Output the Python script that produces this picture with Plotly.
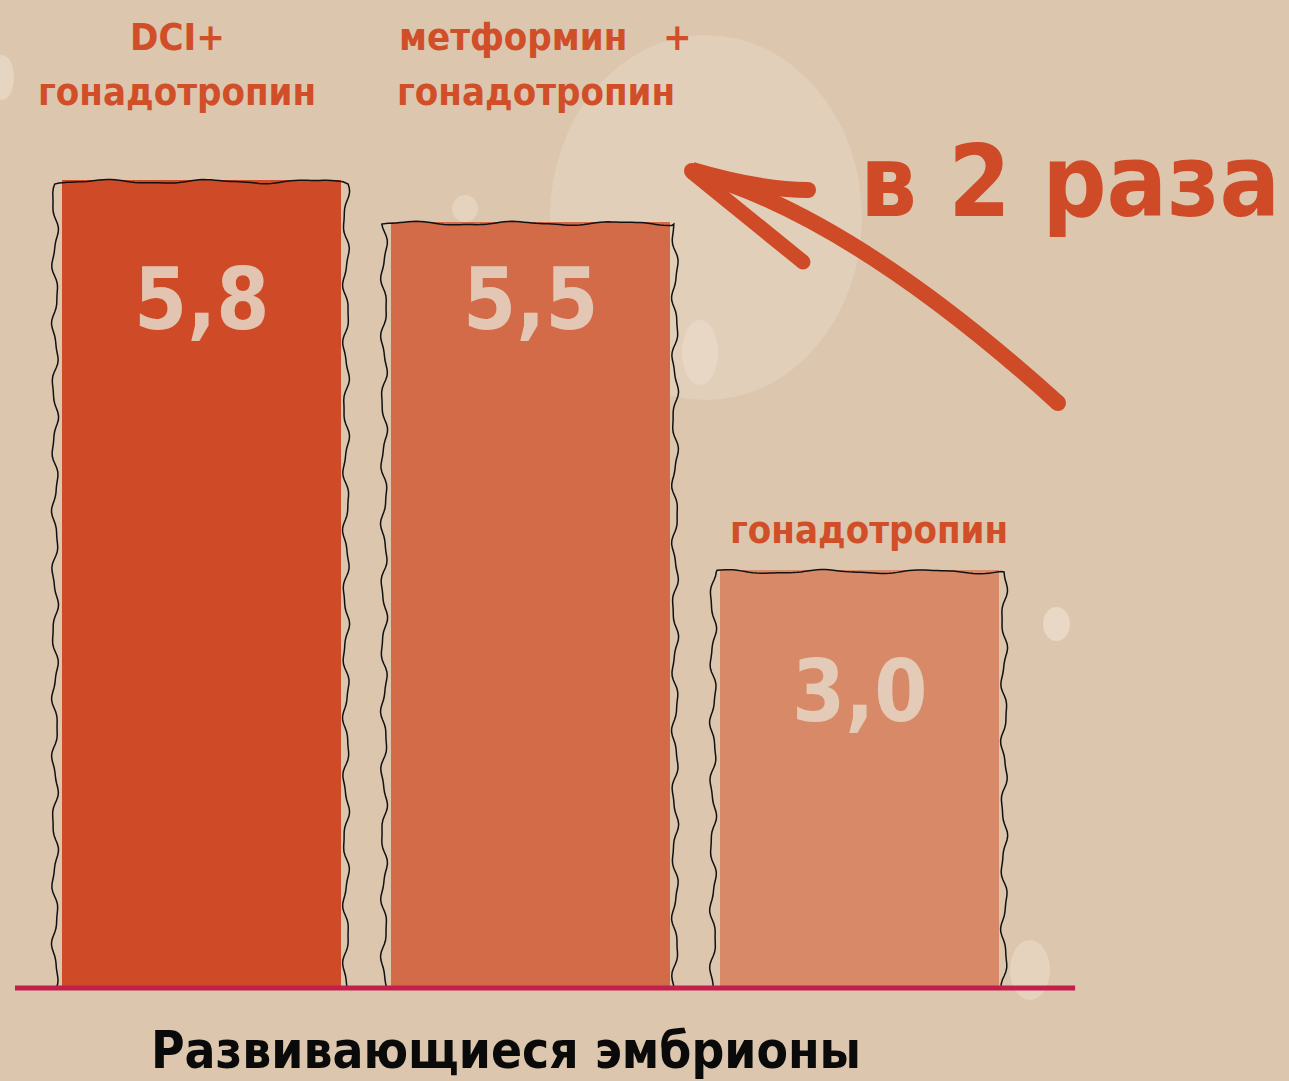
import math
import plotly.graph_objects as go

# ---------------- data ----------------
categories = ["DCI+<br>гонадотропин", "метформин   +<br>гонадотропин", "гонадотропин"]
values = [5.8, 5.5, 3.0]
value_labels = ["5,8", "5,5", "3,0"]
axis_title = "Развивающиеся эмбрионы"
callout = "в 2 раза"

# ---------------- style ----------------
W, H = 1289, 1081
bar_colors = ["#cf4a26", "#d36a48", "#d88a68"]
label_color = "#d04e28"
value_color = "rgba(228,210,192,0.9)"
bg = "#dcc6ae"
FONT = "DejaVu Sans Condensed, Noto Sans"

x_pos = [0, 1, 2]
bar_w = 0.848
y_max = 7.093
x_range = [-0.6125, 3.305]
plot_bottom_px = 988
label_x_shift = [[-0.074, -0.074], [0.045, 0.018], [0.03]]
label_line_px = [[37, 92], [37, 92], [530]]
value_y = [4.94, 4.94, 2.13]

def paper(px, py):
    return px / W, 1 - py / H

fig = go.Figure()
fig.add_trace(go.Bar(
    x=x_pos, y=values, width=bar_w,
    marker=dict(color=bar_colors, line=dict(width=0)),
    hoverinfo="skip", showlegend=False,
))

shapes = []

# soft background bubbles
def ellipse(x0, y0, x1, y1, op):
    a0, b0 = paper(x0, y1)
    a1, b1 = paper(x1, y0)
    shapes.append(dict(type="circle", xref="paper", yref="paper",
                       x0=a0, y0=b0, x1=a1, y1=b1, layer="below",
                       fillcolor=f"rgba(255,250,240,{op})", line=dict(width=0)))

ellipse(550, 35, 862, 400, 0.18)
ellipse(1043, 607, 1070, 641, 0.35)
ellipse(452, 195, 478, 222, 0.25)
ellipse(-10, 55, 14, 100, 0.3)
ellipse(1010, 940, 1050, 1000, 0.25)
ellipse(682, 320, 718, 385, 0.2)

# sketchy outlines around bars (decorative, smooth hand-drawn wobble)
PX_X = 329.0   # pixels per x unit
PX_Y = 139.3   # pixels per y unit

def wobble(t, phase):
    return 2.8 * math.sin(2 * math.pi * t / 62 + phase) + 0.8 * math.sin(2 * math.pi * t / 27 + 2 * phase)

def wavy_outline(xc, top, ph):
    hw = bar_w / 2
    left = xc - hw - 7 / PX_X
    right = xc + hw + 5 / PX_X
    h_px = top * PX_Y
    w_px = (right - left) * PX_X
    pts = []
    step = 4
    n = int(h_px / step)
    for i in range(n + 1):
        t = i * step
        pts.append((left + wobble(t, ph) / PX_X, t / PX_Y))
    m = int(w_px / step)
    for i in range(1, m + 1):
        t = i * step
        pts.append((left + t / PX_X, top - (1.5 + 0.6 * wobble(t * 0.6, ph + 1.3)) / PX_Y))
    for i in range(n, -1, -1):
        t = i * step
        pts.append((right + wobble(t, ph + 2.1) / PX_X, t / PX_Y))
    for i in range(m - 1, 0, -1):
        t = i * step
        pts.append((left + t / PX_X, -(1.5 + 0.6 * wobble(t * 0.6, ph + 0.7)) / PX_Y))
    path = "M " + " L ".join(f"{px:.4f},{py:.4f}" for px, py in pts) + " Z"
    shapes.append(dict(type="path", xref="x", yref="y", path=path,
                       line=dict(color="#111111", width=1.5)))

for xc, v, ph in zip(x_pos, values, [0.3, 1.7, 2.9]):
    wavy_outline(xc, v, ph)

# baseline (paper y so it is not clipped by the plot area)
_, base_y = paper(0, plot_bottom_px)
shapes.append(dict(type="line", xref="x", yref="paper",
                   x0=-0.567, x1=2.655, y0=base_y, y1=base_y,
                   line=dict(color="#c21f4c", width=5)))

# arrow (curved) in pixel coordinates -> paper
def ppath(cmds):
    out = []
    for c in cmds:
        if isinstance(c, str):
            out.append(c)
        else:
            a, b = paper(*c)
            out.append(f"{a:.5f},{b:.5f}")
    return " ".join(out)

arrow_col = "#cf4a26"
shapes.append(dict(type="path", xref="paper", yref="paper",
                   path=ppath(["M", (1058, 403), "Q", (850, 215), (692, 172)]),
                   line=dict(color=arrow_col, width=16)))
shapes.append(dict(type="path", xref="paper", yref="paper",
                   path=ppath(["M", (692, 170), "Q", (760, 190), (808, 190)]),
                   line=dict(color=arrow_col, width=16)))
shapes.append(dict(type="path", xref="paper", yref="paper",
                   path=ppath(["M", (692, 172), "L", (803, 262)]),
                   line=dict(color=arrow_col, width=15)))
for (cx, cy, r) in [(1058, 403, 8), (692, 171, 8), (808, 190, 8), (803, 262, 7.5)]:
    a0, b0 = paper(cx - r, cy + r)
    a1, b1 = paper(cx + r, cy - r)
    shapes.append(dict(type="circle", xref="paper", yref="paper",
                       x0=a0, y0=b0, x1=a1, y1=b1,
                       fillcolor=arrow_col, line=dict(width=0)))

def fnt(size, color):
    return dict(family=FONT, size=size, color=color, weight="bold")

annotations = []
for xc, lab, dxs, lys in zip(x_pos, categories, label_x_shift, label_line_px):
    for line, dx, py in zip(lab.split("<br>"), dxs, lys):
        _, ypap = paper(0, py)
        annotations.append(dict(x=xc + dx, y=ypap, xref="x", yref="paper", text=line,
                                showarrow=False, xanchor="center", yanchor="middle",
                                font=fnt(38, label_color)))
for xc, vl, vy in zip(x_pos, value_labels, value_y):
    annotations.append(dict(x=xc, y=vy, xref="x", yref="y", text=vl,
                            showarrow=False, xanchor="center", yanchor="middle",
                            font=fnt(85, value_color)))

cx, cy = paper(1070, 182)
annotations.append(dict(x=cx, y=cy, xref="paper", yref="paper", text=callout,
                        showarrow=False, xanchor="center", yanchor="middle",
                        font=fnt(100, "#cf4a26")))
tx, ty = paper(506, 1050)
annotations.append(dict(x=tx, y=ty, xref="paper", yref="paper", text=axis_title,
                        showarrow=False, xanchor="center", yanchor="middle",
                        font=fnt(51, "#0a0a0a")))

fig.update_layout(
    width=W, height=H,
    margin=dict(l=0, r=0, t=0, b=0),
    paper_bgcolor=bg, plot_bgcolor="rgba(0,0,0,0)",
    xaxis=dict(range=x_range, visible=False, fixedrange=True),
    yaxis=dict(range=[0, y_max], visible=False, domain=[1 - plot_bottom_px / H, 1], fixedrange=True),
    shapes=shapes, annotations=annotations,
    bargap=0, showlegend=False,
)

fig.write_html("out.html", config={"displayModeBar": False},
               post_script="document.body.style.margin='0';document.body.style.overflow='hidden';document.body.style.background='" + bg + "';")
